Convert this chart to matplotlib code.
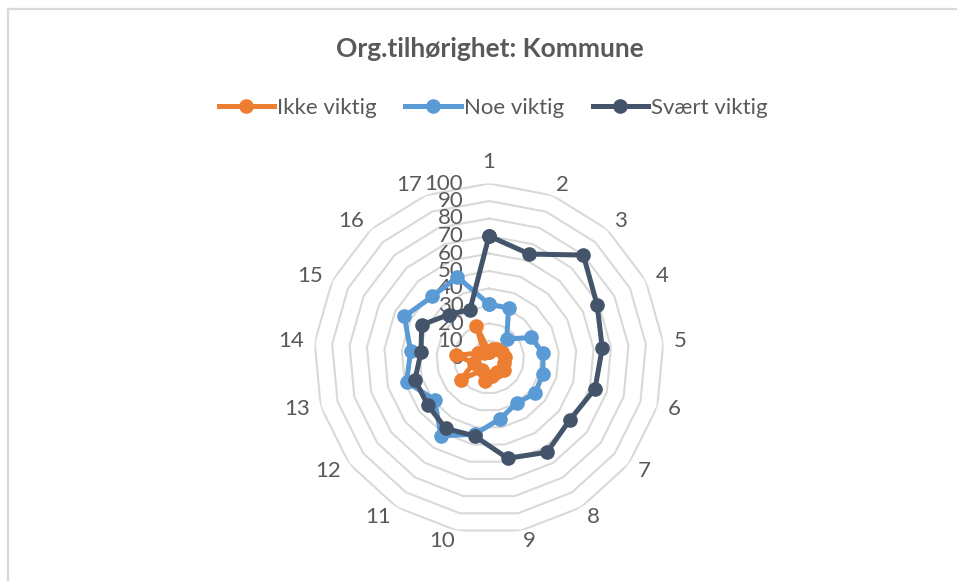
import numpy as np
import matplotlib
matplotlib.use("Agg")
import matplotlib.pyplot as plt
from matplotlib.lines import Line2D

plt.rcParams['font.family'] = ['Lato', 'DejaVu Sans']

# data
categories = [str(i) for i in range(1, 18)]
ikke_viktig = [4, 6, 7, 8, 9, 9, 11, 9, 10, 13, 8, 20, 9, 19, 7, 4, 20]
noe_viktig = [31, 31, 15, 27, 31, 32, 33, 30, 35, 44, 52, 39, 49, 45, 54, 48, 50]
svaert_viktig = [70, 64, 80, 69, 65, 63, 58, 63, 58, 45, 47, 44, 44, 39, 43, 34, 30]
series_names = ['Ikke viktig', 'Noe viktig', 'Svært viktig']
ring_levels = list(range(0, 101, 10))

colors = ['#ED7D31', '#5B9BD5', '#44546A']
text_col = '#595959'
grid_col = '#d9d9d9'

W, H = 957, 581
fig = plt.figure(figsize=(W / 100, H / 100), dpi=100)

# frame lines top and left like the excel chart area
fig.add_artist(Line2D([8 / W, 8 / W], [0, 1 - 9 / H], color=grid_col, lw=1.6))
fig.add_artist(Line2D([8 / W, 1], [1 - 9 / H, 1 - 9 / H], color=grid_col, lw=1.6))

cx, cy, R = 489, 358.5, 175
ax = fig.add_axes([(cx - R) / W, (H - cy - R) / H, 2 * R / W, 2 * R / H], projection='polar')
ax.set_theta_zero_location('N')
ax.set_theta_direction(-1)
ax.set_ylim(0, 100)
ax.grid(False)
ax.spines['polar'].set_visible(False)
ax.set_xticks([])
ax.set_yticks([])
ax.patch.set_alpha(0)

n = len(categories)
theta = np.linspace(0, 2 * np.pi, n, endpoint=False)
theta_c = np.append(theta, theta[0])

# polygon gridlines
for lev in ring_levels[1:]:
    ax.plot(theta_c, [lev] * (n + 1), color=grid_col, lw=1.5, zorder=1)

# value labels along the first spoke (they overlap in the original too)
for lev in ring_levels:
    ax.annotate(str(lev), xy=(0, lev), xytext=(-18.5, 0), textcoords='offset points',
                ha='right', va='center', fontsize=16, color=text_col,
                annotation_clip=False, zorder=2)

# category labels: excel aligns them left/right of the spoke end
for t, lab in zip(theta, categories):
    s = np.sin(t)
    if abs(s) < 0.01:
        ha, va = 'center', 'bottom'
    elif s > 0:
        ha, va = 'left', 'center'
    else:
        ha, va = 'right', 'center'
    ax.text(t, 106.3, lab, ha=ha, va=va, fontsize=16, color=text_col)

handles = []
for vals, name, col in zip([ikke_viktig, noe_viktig, svaert_viktig], series_names, colors):
    v = np.append(vals, vals[0])
    h, = ax.plot(theta_c, v, color=col, lw=3.6, marker='o', markersize=9.5,
                 label=name, zorder=3, clip_on=False)
    handles.append(h)

fig.text(489.5 / W, 1 - 49 / H, 'Org.tilhørighet: Kommune', ha='center', va='center',
         fontsize=19, fontweight='bold', color=text_col)

fig.legend(handles=handles, loc='center', bbox_to_anchor=(493 / W, 1 - 108 / H), ncol=3,
           frameon=False, fontsize=16, handlelength=2.5, handletextpad=0.12,
           columnspacing=1.3, labelcolor=text_col)

fig.savefig('out.png', dpi=100)
